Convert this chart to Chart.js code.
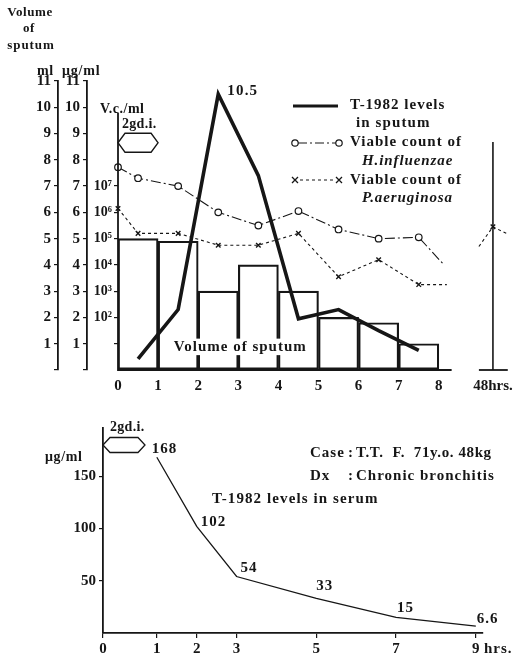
<!DOCTYPE html>
<html><head><meta charset="utf-8">
<script src="https://cdn.jsdelivr.net/npm/chart.js@4/dist/chart.umd.min.js"></script>
<style>
html,body{margin:0;padding:0;background:#fff;}
#wrap{position:relative;width:526px;height:659px;background:#fff;}
#top{position:absolute;left:0;top:0;width:526px;height:400px;}
#bot{position:absolute;left:0;top:400px;width:526px;height:259px;}
</style></head><body>
<div id="wrap"><div id="top"><canvas id="c1"></canvas></div><div id="bot"><canvas id="c2"></canvas></div></div>
<script>
// ---------- DATA (top chart) ----------
const volumeHours = [0.5, 1.5, 2.5, 3.5, 4.5, 5.5, 6.5, 7.5];
const sputumVolumeMl = [5.0, 4.9, 3.0, 4.0, 3.0, 2.0, 1.8, 1.0];
const sputumLevelHours = [0.5, 1.5, 2.5, 3.5, 4.5, 5.5, 6.5, 7.5];
const sputumLevelUg = [0.42, 2.3, 10.5, 7.4, 1.95, 2.3, 1.5, 0.75];
const hinfHours = [0, 0.5, 1.5, 2.5, 3.5, 4.5, 5.5, 6.5, 7.5, 8.1];
const hinfLogCount = [7.72, 7.3, 7.0, 6.0, 5.5, 6.05, 5.35, 5.0, 5.05, 4.05];
const hinfMarked = [1, 1, 1, 1, 1, 1, 1, 1, 1, 0];
const paerHours = [0, 0.5, 1.5, 2.5, 3.5, 4.5, 5.5, 6.5, 7.5, 8.2, 8.6, 9.0, 9.35, 9.75];
const paerLogCount = [6.15, 5.2, 5.2, 4.75, 4.75, 5.2, 3.55, 4.2, 3.25, 3.25, null, 4.7, 5.45, 5.15];
const paerMarked = [1, 1, 1, 1, 1, 1, 1, 1, 1, 0, 0, 0, 1, 0];
const hourTicks = [0, 1, 2, 3, 4, 5, 6, 7, 8];
const hour48Pos = 9.35;
const hour48Label = '48hrs.';
const leftTicks = [0, 1, 2, 3, 4, 5, 6, 7, 8, 9, 10, 11];
const vcTicks = [1, 2, 3, 4, 5, 6, 7];
const vcTickLabels = ['', '10²', '10³', '10⁴', '10⁵', '10⁶', '10⁷'];
const peakLabel = '10.5';

// ---------- DATA (bottom chart) ----------
const serumHours = [1, 2, 3, 5, 7, 9];
const serumLevels = [168, 102, 54, 33, 15, 6.6];
const serumLabels = ['168', '102', '54', '33', '15', '6.6'];
const serumTickHours = [-0.35, 1, 2, 3, 5, 7, 9];
const serumTickLabels = ['0', '1', '2', '3', '5', '7', '9'];
const serumYTicks = [50, 100, 150];

const INK = '#161616';
const SERIF = '"Liberation Serif", "DejaVu Serif", serif';

function txt(ctx, s, x, y, o = {}) {
  ctx.save();
  ctx.font = `${o.style || 'normal'} ${o.weight || 'bold'} ${o.size || 15}px ${SERIF}`;
  ctx.letterSpacing = (o.ls != null ? o.ls : 1) + 'px';
  ctx.textAlign = o.align || 'left';
  ctx.textBaseline = 'middle';
  if (o.bg) {
    const w = ctx.measureText(s).width;
    const left = o.align === 'center' ? x - w / 2 : x;
    ctx.fillStyle = '#fff';
    ctx.fillRect(left - 2, y - (o.size || 15) * 0.55, w + 4, (o.size || 15) * 1.1);
  }
  ctx.fillStyle = INK;
  ctx.fillText(s, x, y);
  ctx.restore();
}
function hexagon(ctx, x0, x1, yc, h) {
  const ind = 7;
  ctx.save();
  ctx.strokeStyle = INK; ctx.lineWidth = 1.3;
  ctx.beginPath();
  ctx.moveTo(x0, yc);
  ctx.lineTo(x0 + ind, yc - h / 2);
  ctx.lineTo(x1 - ind, yc - h / 2);
  ctx.lineTo(x1, yc);
  ctx.lineTo(x1 - ind, yc + h / 2);
  ctx.lineTo(x0 + ind, yc + h / 2);
  ctx.closePath();
  ctx.stroke();
  ctx.restore();
}
function seg(ctx, x0, y0, x1, y1, w, dash) {
  ctx.save();
  ctx.strokeStyle = INK; ctx.lineWidth = w;
  ctx.setLineDash(dash || []);
  ctx.beginPath(); ctx.moveTo(x0, y0); ctx.lineTo(x1, y1); ctx.stroke();
  ctx.restore();
}

const tickFont = { family: SERIF, size: 15, weight: 'bold' };

function leftAxis(weight, width, extra) {
  return Object.assign({
    type: 'linear', position: 'left', min: 0, max: 11, weight: weight,
    afterBuildTicks: s => { s.ticks = leftTicks.map(v => ({ value: v })); },
    afterFit: s => { s.width = width; },
    grid: { display: true, drawOnChartArea: false, drawTicks: true, tickLength: 4, color: INK, lineWidth: 1.2 },
    border: { display: true, color: INK, width: 1.8 },
    ticks: { color: INK, font: tickFont, padding: 3, callback: v => (v === 0 ? '' : String(v)) }
  }, extra || {});
}

// caption drawn before the lines so the sputum curve stays on top
const captionPlugin = {
  id: 'caption',
  beforeDatasetsDraw(chart) {},
  afterDatasetDraw(chart, args) {
    if (args.index !== 4) return; // after bars are drawn (bars are drawn first, they are last in order)
    const ctx = chart.ctx, x = chart.scales.x, ml = chart.scales.ml;
    txt(ctx, 'Volume of sputum', x.getPixelForValue(3.05), ml.getPixelForValue(0.88), { size: 15, align: 'center', ls: 1.0, bg: true });
  }
};

const topAnno = {
  id: 'topAnno',
  afterDatasetsDraw(chart) {
    const ctx = chart.ctx;
    const x = chart.scales.x, ml = chart.scales.ml, vc = chart.scales.vc, ug = chart.scales.ug;
    const y0 = ml.getPixelForValue(0);
    // x axis (broken)
    seg(ctx, x.getPixelForValue(0), y0, x.getPixelForValue(8.32), y0, 1.8);
    seg(ctx, x.getPixelForValue(9.0), y0, x.getPixelForValue(9.72), y0, 1.8);
    // V.c./ml axis line (starts lower than the others)
    seg(ctx, vc.right, vc.getPixelForValue(9.78), vc.right, y0 + 1, 1.8);
    // axis titles
    txt(ctx, 'Volume', 30, 13, { size: 13, align: 'center', ls: 0.6 });
    txt(ctx, 'of', 29, 29, { size: 13, align: 'center', ls: 0.6 });
    txt(ctx, 'sputum', 31, 46, { size: 13, align: 'center', ls: 0.9 });
    txt(ctx, 'ml', 37, 71, { size: 14, ls: 0.5 });
    txt(ctx, 'μg/ml', 62, 71, { size: 14, ls: 0.8 });
    txt(ctx, 'V.c./ml', 100, 109, { size: 14, ls: 0.5 });
    txt(ctx, '2gd.i.', 122, 124, { size: 14, ls: 0.3 });
    hexagon(ctx, x.getPixelForValue(0), x.getPixelForValue(1), ml.getPixelForValue(8.65), 19);
    // peak label
    const pk = sputumLevelUg.indexOf(Math.max(...sputumLevelUg));
    txt(ctx, peakLabel, x.getPixelForValue(sputumLevelHours[pk]) + 9, ug.getPixelForValue(sputumLevelUg[pk]) - 3, { size: 15, ls: 1.2 });
    // legend
    seg(ctx, 293, 106, 338, 106, 3.2);
    txt(ctx, 'T-1982 levels', 350, 105, { size: 15, ls: 1.0 });
    txt(ctx, 'in sputum', 356, 123, { size: 15, ls: 1.1 });
    seg(ctx, 298, 143, 336, 143, 1.1, [9, 3, 2, 3]);
    ctx.save(); ctx.fillStyle = '#fff'; ctx.strokeStyle = INK; ctx.lineWidth = 1.2;
    [295, 339].forEach(cx => { ctx.beginPath(); ctx.arc(cx, 143, 3.2, 0, Math.PI * 2); ctx.fill(); ctx.stroke(); });
    ctx.restore();
    txt(ctx, 'Viable count of', 350, 142, { size: 15, ls: 1.0 });
    txt(ctx, 'H.influenzae', 362, 161, { size: 15, style: 'italic', ls: 0.9 });
    seg(ctx, 300, 180, 334, 180, 1.1, [3, 3]);
    ctx.save(); ctx.strokeStyle = INK; ctx.lineWidth = 1.3;
    [295, 339].forEach(cx => { ctx.beginPath(); ctx.moveTo(cx - 3, 177); ctx.lineTo(cx + 3, 183); ctx.moveTo(cx + 3, 177); ctx.lineTo(cx - 3, 183); ctx.stroke(); });
    ctx.restore();
    txt(ctx, 'Viable count of', 350, 180, { size: 15, ls: 1.0 });
    txt(ctx, 'P.aeruginosa', 362, 198, { size: 15, style: 'italic', ls: 0.9 });
  }
};

new Chart(document.getElementById('c1'), {
  type: 'bar',
  data: {
    datasets: [
      {
        type: 'line', label: 'T-1982 levels in sputum', yAxisID: 'ug',
        data: sputumLevelHours.map((h, i) => ({ x: h, y: sputumLevelUg[i] })),
        borderColor: INK, borderWidth: 3.6, pointRadius: 0, tension: 0, borderJoinStyle: 'miter', clip: false
      },
      {
        type: 'line', label: 'Viable count of H.influenzae', yAxisID: 'vc',
        data: hinfHours.map((h, i) => ({ x: h, y: hinfLogCount[i] })),
        borderColor: INK, borderWidth: 1.1, borderDash: [10, 3, 2, 3], tension: 0, clip: false,
        pointStyle: 'circle', pointRadius: hinfMarked.map(m => m ? 3.3 : 0),
        pointBackgroundColor: '#fff', pointBorderColor: INK, pointBorderWidth: 1.2
      },
      {
        type: 'line', label: 'Viable count of P.aeruginosa', yAxisID: 'vc',
        data: paerHours.map((h, i) => ({ x: h, y: paerLogCount[i] })),
        borderColor: INK, borderWidth: 1.1, borderDash: [3, 3], tension: 0, spanGaps: false, clip: false,
        pointStyle: 'crossRot', pointRadius: paerMarked.map(m => m ? 3.2 : 0),
        pointBorderColor: INK, pointBorderWidth: 1.4
      },
      {
        type: 'line', label: '48 hrs', yAxisID: 'ml',
        data: [{ x: hour48Pos, y: 0 }, { x: hour48Pos, y: 8.68 }],
        borderColor: INK, borderWidth: 1.6, pointRadius: 0
      },
      {
        type: 'bar', label: 'Volume of sputum', yAxisID: 'ml',
        data: volumeHours.map((h, i) => ({ x: h, y: sputumVolumeMl[i] })),
        backgroundColor: 'rgba(0,0,0,0)', borderColor: INK, borderWidth: 1.5, borderSkipped: false,
        barPercentage: 1, categoryPercentage: 1
      }
    ]
  },
  options: {
    responsive: true, maintainAspectRatio: false, animation: false, devicePixelRatio: 1,
    layout: { padding: { left: 0, right: 7, top: 81, bottom: 0 } },
    plugins: { legend: { display: false }, tooltip: { enabled: false } },
    scales: {
      x: {
        type: 'linear', min: 0, max: 10, offset: false,
        afterBuildTicks: s => { s.ticks = hourTicks.concat([hour48Pos]).map(v => ({ value: v })); },
        afterFit: s => { s.height = 30; },
        grid: { display: false, offset: false, drawTicks: false },
        border: { display: false },
        ticks: { color: INK, font: tickFont, padding: 7, maxRotation: 0, autoSkip: false,
          callback: v => (v === hour48Pos ? hour48Label : String(v)) }
      },
      vc: Object.assign(leftAxis(1, 31), {
        afterBuildTicks: s => { s.ticks = vcTicks.map(v => ({ value: v })); },
        border: { display: false },
        ticks: { color: INK, font: { family: SERIF, size: 14, weight: 'bold' }, padding: 2,
          callback: v => vcTickLabels[vcTicks.indexOf(v)] || '' }
      }),
      ug: leftAxis(2, 29),
      ml: leftAxis(3, 58)
    }
  },
  plugins: [captionPlugin, topAnno]
});

// ---------- bottom chart ----------
const botAnno = {
  id: 'botAnno',
  afterDatasetsDraw(chart) {
    const ctx = chart.ctx;
    const x = chart.scales.x, y = chart.scales.y;
    txt(ctx, '2gd.i.', 110, 27, { size: 14, ls: 0.3 });
    hexagon(ctx, x.left, x.left + 42, 45, 15);
    txt(ctx, 'μg/ml', 45, 57, { size: 14, ls: 0.6 });
    txt(ctx, 'Case', 310, 53, { size: 15, ls: 1.0 });
    txt(ctx, ':', 348, 53, { size: 15, ls: 0 });
    txt(ctx, 'T.T.  F.  71y.o. 48kg', 356, 53, { size: 15, ls: 0.6 });
    txt(ctx, 'Dx', 310, 76, { size: 15, ls: 1.0 });
    txt(ctx, ':', 348, 76, { size: 15, ls: 0 });
    txt(ctx, 'Chronic bronchitis', 356, 76, { size: 15, ls: 1.0 });
    txt(ctx, 'T-1982 levels in serum', 212, 99, { size: 15, ls: 1.1 });
    const offs = [[-5, -8], [4, -4], [4, -8], [0, -12], [1, -9], [1, -7]];
    serumHours.forEach((h, i) => {
      txt(ctx, serumLabels[i], x.getPixelForValue(h) + offs[i][0], y.getPixelForValue(serumLevels[i]) + offs[i][1],
        { size: 15, ls: 1.0 });
    });
    txt(ctx, 'hrs.', 484, 249, { size: 15, ls: 1 });
  }
};

new Chart(document.getElementById('c2'), {
  type: 'line',
  data: {
    datasets: [{
      label: 'T-1982 levels in serum',
      data: serumHours.map((h, i) => ({ x: h, y: serumLevels[i] })),
      borderColor: INK, borderWidth: 1.3, pointRadius: 0, tension: 0
    }]
  },
  options: {
    responsive: true, maintainAspectRatio: false, animation: false, devicePixelRatio: 1,
    layout: { padding: { left: 0, right: 43, top: 28, bottom: 0 } },
    plugins: { legend: { display: false }, tooltip: { enabled: false } },
    scales: {
      x: {
        type: 'linear', min: -0.35, max: 9.18,
        afterBuildTicks: s => { s.ticks = serumTickHours.map(v => ({ value: v })); },
        afterFit: s => { s.height = 26; },
        grid: { display: true, drawOnChartArea: false, drawTicks: true, tickLength: 5, color: INK, lineWidth: 1.2 },
        border: { display: true, color: INK, width: 1.8 },
        ticks: { color: INK, font: tickFont, padding: 2, maxRotation: 0, autoSkip: false,
          callback: v => serumTickLabels[serumTickHours.indexOf(v)] }
      },
      y: {
        type: 'linear', min: 0, max: 196,
        afterBuildTicks: s => { s.ticks = serumYTicks.map(v => ({ value: v })); },
        afterFit: s => { s.width = 103; },
        grid: { display: true, drawOnChartArea: false, drawTicks: true, tickLength: 4, color: INK, lineWidth: 1.2 },
        border: { display: true, color: INK, width: 1.8 },
        ticks: { color: INK, font: tickFont, padding: 3 }
      }
    }
  },
  plugins: [botAnno]
});
</script>
</body></html>
